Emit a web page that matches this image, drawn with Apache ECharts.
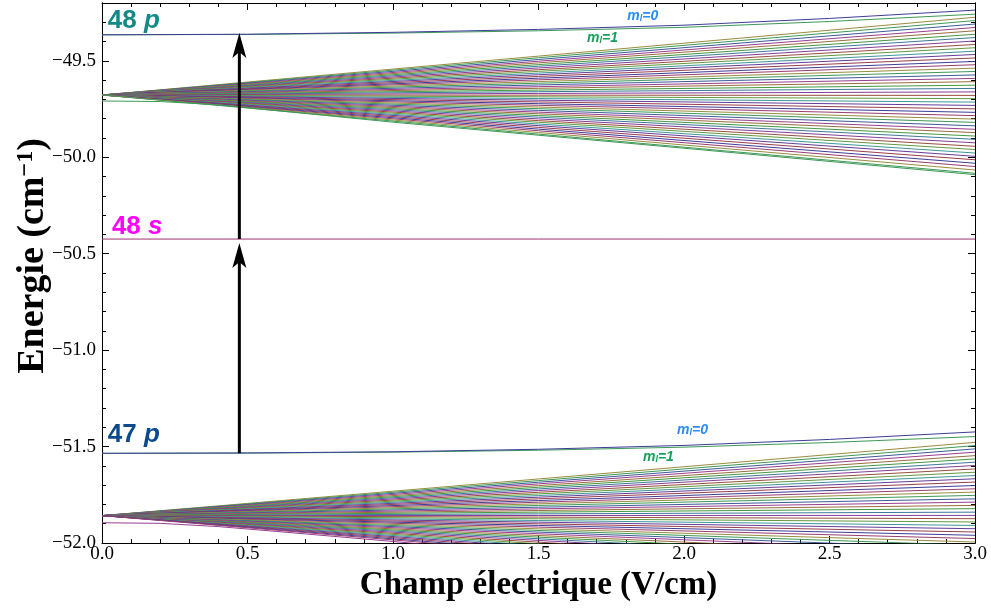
<!DOCTYPE html>
<html>
<head>
<meta charset="utf-8">
<script src="https://cdn.jsdelivr.net/npm/echarts@6/dist/echarts.min.js"></script>
<style>html,body{margin:0;padding:0;background:#fff}#c{width:991px;height:615px}</style>
</head>
<body>
<div id="c"></div>
<script>
// ---------- data ----------
const fieldTicks = [0, 0.5, 1.0, 1.5, 2.0, 2.5, 3.0];
const energyTicks = [-52.0, -51.5, -51.0, -50.5, -50.0, -49.5];

const fieldEnd = 3.0;
// n=47 Stark manifold: common start energy, end energies at 3 V/cm (top to bottom)
const upperStart = -49.677;
const upperEnds = [-49.274, -49.291, -49.309, -49.327, -49.344, -49.362, -49.379, -49.397, -49.415, -49.432,
  -49.450, -49.467, -49.485, -49.503, -49.520, -49.538, -49.555, -49.573, -49.591, -49.608,
  -49.626, -49.643, -49.661, -49.679, -49.696, -49.714, -49.731, -49.749, -49.767, -49.784,
  -49.802, -49.819, -49.837, -49.855, -49.872, -49.890, -49.907, -49.925, -49.943, -49.960,
  -49.978, -49.995, -50.013, -50.031, -50.048, -50.066, -50.083];
// n=46 Stark manifold
const lowerStart = -51.858;
const lowerEnds = [-51.478, -51.495, -51.512, -51.529, -51.547, -51.564, -51.581, -51.598, -51.616, -51.633,
  -51.650, -51.667, -51.684, -51.702, -51.719, -51.736, -51.753, -51.771, -51.788, -51.805,
  -51.822, -51.840, -51.857, -51.874, -51.891, -51.909, -51.926, -51.943, -51.960, -51.977,
  -51.995, -52.012, -52.029, -52.046, -52.064, -52.081, -52.098, -52.115, -52.133, -52.150,
  -52.167, -52.184, -52.201, -52.219, -52.236];
// d states joining the manifolds
const d47Field  = [0, 0.2, 0.4, 0.6, 1.0, 2.0, 3.0];
const d47Energy = [-49.708, -49.711, -49.728, -49.758, -49.818, -49.953, -50.090];
const d46Field  = [0, 0.2, 0.4, 0.6, 1.0, 1.5];
const d46Energy = [-51.895, -51.898, -51.915, -51.940, -51.992, -52.060];
// p states (m_l = 0, 1)
const pField = [0, 0.5, 1.0, 1.5, 2.0, 2.5, 3.0];
const p48m0 = [-49.365, -49.362, -49.352, -49.337, -49.315, -49.280, -49.237];
const p48m1 = [-49.365, -49.363, -49.356, -49.344, -49.326, -49.296, -49.258];
const p47m0 = [-51.535, -51.533, -51.527, -51.514, -51.494, -51.463, -51.424];
const p47m1 = [-51.535, -51.534, -51.529, -51.519, -51.503, -51.479, -51.448];
// 48s state
const s48Field = [0, 3.0];
const s48Energy = [-50.424, -50.424];
// transition arrows: field, [start, tip]
const arrowField = 0.472;
const arrowLower = [-51.535, -50.445];
const arrowUpper = [-50.424, -49.356];

// ---------- styling ----------
const serif = '"Liberation Serif","Times New Roman",serif';
const sans = '"Liberation Sans",Arial,sans-serif';
const palette = ['#3d3d99','#993d71','#998c3d','#3d9956','#3d5a99','#993d90','#996d3d','#43993d',
  '#3d7999','#843d99','#994e3d','#62993d','#3d9799','#653d99','#993d4b'];

function zip(xs, ys) { return xs.map((x, i) => [x, ys[i]]); }
function lineSeries(data, color, width, z) {
  return { type: 'line', data: data, showSymbol: false, symbol: 'none', silent: true, animation: false,
    clip: true, xAxisIndex: 0, yAxisIndex: 0, z: z || 2,
    lineStyle: { color: color, width: width || 1, opacity: 1 } };
}

const series = [];
upperEnds.forEach((e, i) => series.push(lineSeries([[0, upperStart], [fieldEnd, e]], palette[(i + 2) % palette.length])));
lowerEnds.forEach((e, i) => series.push(lineSeries([[0, lowerStart], [fieldEnd, e]], palette[(i + 2) % palette.length])));
series.push(lineSeries(zip(d47Field, d47Energy), '#3d9956'));
series.push(lineSeries(zip(d46Field, d46Energy), '#993d90'));
series.push(lineSeries(zip(pField, p48m1), '#3d9956', 1, 3));
series.push(lineSeries(zip(pField, p48m0), '#3d3d99', 1, 3));
series.push(lineSeries(zip(pField, p47m1), '#3d9956', 1, 3));
series.push(lineSeries(zip(pField, p47m0), '#3d3d99', 1, 3));
series.push(lineSeries(zip(s48Field, s48Energy), '#a0306e', 1, 3));
// arrow shafts
series.push(lineSeries([[arrowField, arrowLower[0]], [arrowField, arrowLower[1] - 0.06]], '#000', 3, 5));
series.push(lineSeries([[arrowField, arrowUpper[0]], [arrowField, arrowUpper[1] - 0.06]], '#000', 3, 5));
// arrow heads
series.push({ type: 'scatter', silent: true, animation: false, z: 6, xAxisIndex: 0, yAxisIndex: 0,
  data: [[arrowField, arrowLower[1]], [arrowField, arrowUpper[1]]],
  symbol: 'path://M0,0 L7,25 L0,19 L-7,25 Z', symbolSize: [14, 25], symbolOffset: [0, 12.5],
  itemStyle: { color: '#000', opacity: 1 } });

const yMin = energyTicks[0], yMax = -49.2;
const fmtY = v => (v < 0 ? '\u2212' : '') + Math.abs(v).toFixed(1);
const fmtX = v => v.toFixed(1);
const black = { color: '#000', width: 1 };

function yAx(pos, interval, len, labels, named) {
  const a = { type: 'value', min: yMin, max: yMax, interval: interval, position: pos,
    axisLine: { show: true, lineStyle: black }, splitLine: { show: false },
    axisTick: { show: true, inside: true, length: len, lineStyle: black },
    axisLabel: { show: labels, formatter: fmtY, fontFamily: serif, fontSize: 19, color: '#000', margin: 6,
      showMaxLabel: false, showMinLabel: true } };
  if (named) {
    a.name = '{b|Energie (cm}{s|\u22121}{b|)}';
    a.nameLocation = 'middle';
    a.nameGap = 50;
    a.nameMoveOverlap = false;
    a.nameTextStyle = { padding: [0, 0, 0, 34], rich: {
      b: { fontFamily: serif, fontWeight: 'bold', fontSize: 38, color: '#000', lineHeight: 38 },
      s: { fontFamily: serif, fontWeight: 'bold', fontSize: 24, color: '#000', lineHeight: 12, verticalAlign: 'top' } } };
  }
  return a;
}
function xAx(pos, labels, named) {
  const a = { type: 'value', min: fieldTicks[0], max: fieldTicks[fieldTicks.length - 1], interval: 0.5, position: pos,
    axisLine: { show: true, lineStyle: black }, splitLine: { show: false },
    axisTick: { show: true, inside: true, length: 7, lineStyle: black },
    minorTick: { show: true, splitNumber: 5, length: 4, lineStyle: black },
    axisLabel: { show: labels, formatter: fmtX, fontFamily: serif, fontSize: 19, color: '#000', margin: 2 } };
  if (named) {
    a.name = 'Champ \u00e9lectrique (V/cm)';
    a.nameLocation = 'middle';
    a.nameGap = 26;
    a.nameMoveOverlap = false;
    a.nameTextStyle = { fontFamily: serif, fontWeight: 'bold', fontSize: 33, color: '#000' };
  }
  return a;
}

const chart = echarts.init(document.getElementById('c'), null, { renderer: 'canvas' });
chart.setOption({
  animation: false,
  backgroundColor: '#fff',
  grid: { left: 102, right: 16, top: 3, bottom: 72, containLabel: false, outerBoundsMode: 'none' },
  xAxis: [xAx('bottom', true, true), xAx('top', false, false)],
  yAxis: [yAx('left', 0.5, 7, true, true), yAx('left', 0.1, 4, false, false),
          yAx('right', 0.5, 7, false, false), yAx('right', 0.1, 4, false, false)],
  series: series
});

// ---------- annotations ----------
const stateLabels = [
  { text: '{n|48 }{i|p}', at: [0.02, -49.293], color: '#138a88' },
  { text: '{n|48 }{i|s}', at: [0.034, -50.36], color: '#ff00ff' },
  { text: '{n|47 }{i|p}', at: [0.02, -51.438], color: '#0b4a8c' }
];
const mlLabels = [
  { sub: '0', at: [1.805, -49.268], color: '#2a8cf5' },
  { sub: '1', at: [1.667, -49.384], color: '#17a05c' },
  { sub: '0', at: [1.976, -51.413], color: '#2a8cf5' },
  { sub: '1', at: [1.859, -51.553], color: '#17a05c' }
];
const toPx = p => chart.convertToPixel({ xAxisIndex: 0, yAxisIndex: 0 }, p);
const graphics = [];
stateLabels.forEach(l => {
  const p = toPx(l.at);
  graphics.push({ type: 'text', x: p[0], y: p[1], z: 10, silent: true,
    style: { text: l.text, align: 'left', verticalAlign: 'middle',
      rich: {
        n: { fontFamily: sans, fontWeight: 'bold', fontSize: 26, fill: l.color, lineHeight: 26 },
        i: { fontFamily: sans, fontWeight: 'bold', fontStyle: 'italic', fontSize: 26, fill: l.color, lineHeight: 26 } } } });
});
mlLabels.forEach(l => {
  const p = toPx(l.at);
  graphics.push({ type: 'text', x: p[0], y: p[1], z: 10, silent: true,
    style: { text: '{m|m}{l|l}{e|=' + l.sub + '}', align: 'left', verticalAlign: 'middle',
      rich: {
        m: { fontFamily: sans, fontWeight: 'bold', fontStyle: 'italic', fontSize: 14, fill: l.color, lineHeight: 14 },
        l: { fontFamily: sans, fontWeight: 'bold', fontStyle: 'italic', fontSize: 9, fill: l.color, lineHeight: 4, verticalAlign: 'bottom' },
        e: { fontFamily: sans, fontWeight: 'bold', fontStyle: 'italic', fontSize: 14, fill: l.color, lineHeight: 14 } } } });
});
chart.setOption({ graphic: graphics });
</script>
</body>
</html>
